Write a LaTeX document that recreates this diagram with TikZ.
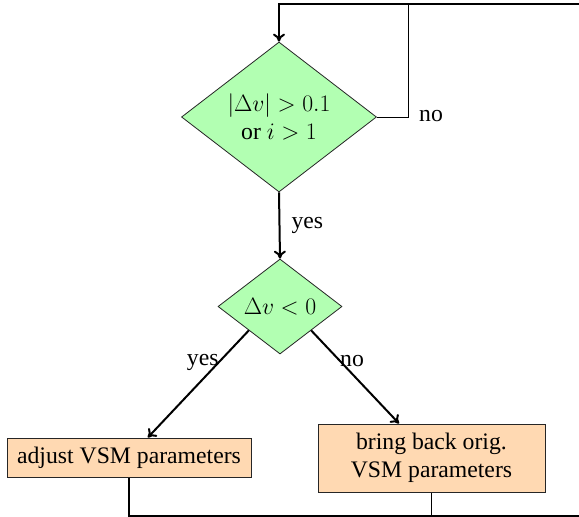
\RequirePackage{fix-cm}
\documentclass[tikz,border=0pt]{standalone}
\usepackage[no-math]{fontspec}
\setmainfont{LiberationSerif}[Extension=.ttf, UprightFont=*-Regular, BoldFont=*-Bold, ItalicFont=*-Italic, BoldItalicFont=*-BoldItalic]
\usetikzlibrary{shapes.geometric,arrows.meta}
\tikzset{
  dec/.style={diamond, draw=black!85, line width=0.8pt, fill=green!30, inner sep=0pt, aspect=1.3, align=center},
  actbox/.style={rectangle, draw=black!85, line width=1pt, fill=orange!30, inner sep=2pt, align=center},
  heavy/.style={line width=2pt},
  light/.style={line width=0.9pt},
  tip/.style={-{To[length=8pt,width=12pt]}},
  lbl/.style={inner sep=0pt}
}
\begin{document}
\begin{tikzpicture}[x=1pt,y=-1pt,font=\rmfamily\fontsize{23.7}{28.5}\selectfont]
\useasboundingbox (0,0) rectangle (579,517);
\clip (0,0) rectangle (579,517);
\node[dec, minimum width=195pt, minimum height=150pt] (d1) at (279,117) {$|\Delta v|>0.1$\\or $i>1$};
\node[dec, minimum width=124pt, minimum height=95pt] (d2) at (280,306.5) {$\Delta v<0$};
\node[actbox, minimum width=244pt, minimum height=39pt] (b1) at (129,457.5) {adjust VSM parameters};
\node[actbox, minimum width=227pt, minimum height=68pt] (b2) at (431.5,458) {bring back orig.\\VSM parameters};
\coordinate (c1) at (279,4);
\coordinate (c2) at (592,4);
\coordinate (c3) at (592,516);
\coordinate (c5) at (431.5,516);
\coordinate (c6) at (408,117);
\coordinate (c7) at (408,4);
\node[lbl, anchor=west] (nolab) at (419,116) {no};
\draw[heavy,tip] (b1.south) |- (c3) -- (c2) -- (c1) -- (d1.north);
\draw[light] (d1.east) -- (c6) -- (c7);
\draw[light] (b2.south) -- (c5);
\draw[heavy,tip] (d1.south) -- node[lbl, anchor=west, xshift=11pt] (yes1) {yes} (d2.north);
\draw[heavy,tip] (d2.south west) -- node[lbl, pos=0.3, anchor=east, xshift=1pt] (yes2) {yes} (b1);
\draw[heavy,tip] (d2.south east) -- node[lbl, pos=0.33, anchor=west, xshift=-1pt] (no2) {no} (b2);
\end{tikzpicture}
\end{document}
